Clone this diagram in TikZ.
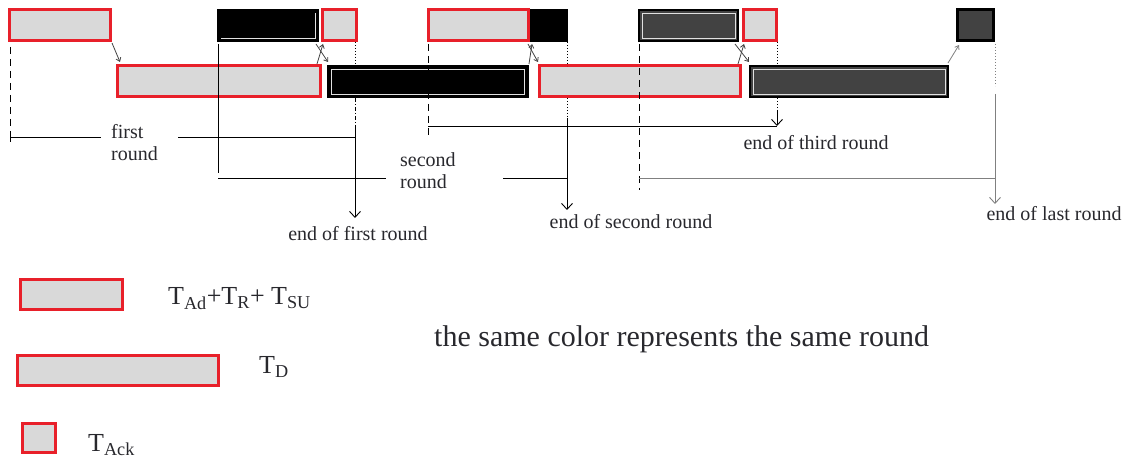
\documentclass[tikz,border=0pt]{standalone}
\usepackage{fontspec}
\setmainfont{Liberation Serif}
\usetikzlibrary{arrows.meta}
\definecolor{lg}{RGB}{217,217,217}
\definecolor{rd}{RGB}{232,32,42}
\definecolor{dg}{RGB}{66,66,66}
\definecolor{txt}{RGB}{40,40,45}
\begin{document}
\begin{tikzpicture}[x=1pt,y=-1pt,
  bx/.style={anchor=north west,inner sep=0pt,outer sep=0pt,minimum height=31pt},
  redbox/.style={bx,fill=lg,draw=rd,line width=3pt},
  blkbox/.style={bx,fill=black,draw=black,line width=1.5pt},
  dgbox/.style={bx,fill=dg,draw=black,line width=2pt},
  inset/.style={draw=lg!80!white,line width=0.8pt},
  lbl/.style={text=txt,font=\fontsize{20}{22}\selectfont,inner sep=0pt},
  small/.style={-{Straight Barb[length=3.5pt,width=5pt]},line width=0.8pt,draw=dg},
  endarr/.style={-{Straight Barb[length=6pt,width=11pt]},line width=0.9pt},
  dsh/.style={dash pattern=on 7pt off 5pt,line width=0.9pt},
  dts/.style={dotted,line width=1pt},
  leg/.style={text=txt,font=\fontsize{26}{30}\selectfont,anchor=base west,inner sep=0pt}
]
\useasboundingbox (0,0) rectangle (1136,462);
% top row
\node[redbox,minimum width=101pt] (A1) at (9,10) {};
\node[blkbox,minimum width=100pt] (B1) at (218,10) {};
\node[redbox,minimum width=34pt] (K1) at (322,10) {};
\node[redbox,minimum width=100pt] (A2) at (428,10) {};
\node[blkbox,minimum width=36pt] (K2) at (531,10) {};
\node[dgbox,minimum width=99pt] (C1) at (639,10) {};
\node[redbox,minimum width=33pt] (K3) at (743,10) {};
\node[dgbox,minimum width=36pt,line width=3pt] (DD) at (957,10) {};
% bottom row
\node[redbox,minimum width=203pt] (L1) at (117,66) {};
\node[blkbox,minimum width=200pt] (L2) at (328,66) {};
\node[redbox,minimum width=201pt] (L3) at (539,66) {};
\node[dgbox,minimum width=198pt] (L4) at (750,66) {};
% insets
\draw[inset] ([shift={(-3,3)}]B1.north east) -- ([shift={(-3,-3)}]B1.south east) -- ([shift={(3,-3)}]B1.south west);
\draw[inset] ([shift={(3,3)}]L2.north west) rectangle ([shift={(-4,-3)}]L2.south east);
\draw[inset] ([shift={(3,3)}]C1.north west) rectangle ([shift={(-3,-3)}]C1.south east);
\draw[inset] ([shift={(3,3)}]L4.north west) rectangle ([shift={(-3,-3)}]L4.south east);
% small arrows between boxes
\draw[small] ([shift={(2,2)}]A1.south east) -- ([shift={(3,-4)}]L1.north west);
\draw[small] ([shift={(-3,-2)}]L1.north east) -- ([shift={(1,3)}]K1.south west);
\draw[small] ([shift={(-2,3)}]B1.south east) -- ([shift={(0,-4)}]L2.north west);
\draw[small] ([shift={(1,-2)}]L2.north east) -- ([shift={(4,3)}]A2.south east);
\draw[small] ([shift={(0,3)}]A2.south east) -- ([shift={(10,-4)}]L2.north east);
\draw[small] ([shift={(-2,-2)}]L3.north east) -- ([shift={(1,3)}]K3.south west);
\draw[small] ([shift={(-3,3)}]C1.south east) -- ([shift={(-1,-4)}]L4.north west);
\draw[small,draw=gray] ([shift={(0,-3)}]L4.north east) -- ([shift={(2,4)}]DD.south west);
% named coordinates
\coordinate (f0) at (10,137);
\coordinate (f1) at (355,137);
\coordinate (s0) at (218,178);
\coordinate (s1) at (567,178);
\coordinate (t0) at (428,126);
\coordinate (t1) at (777,126);
\coordinate (u0) at (639,178);
\coordinate (u1) at (995,178);
% first round
\draw[dsh] (10,47) -- ([yshift=3]f0);
\draw[line width=0.9pt] ([yshift=-5]f0) -- ([yshift=4]f0);
\draw[line width=0.9pt] (f0) -- (101,137);
\draw[line width=0.9pt] (178,137) -- (f1);
\node[lbl,anchor=north west,align=left] (fr) at (111,124) {first\\round};
% second round
\draw[line width=0.9pt] (218,44) -- ([yshift=5]s0);
\draw[line width=0.9pt] (s0) -- (386,178);
\draw[line width=0.9pt] (503,178) -- (s1);
\node[lbl,anchor=north west,align=left] (sr) at (400,152) {second\\round};
% third round
\draw[dsh] (428,44) -- (428,135);
\draw[line width=0.9pt] (t0) -- (t1);
% last round
\draw[dsh] (639,44) -- (639,190);
\draw[line width=0.9pt,draw=gray] (u0) -- (u1);
% end of first round
\draw[dts] (355,42) -- (355,66);
\draw[dash pattern=on 4pt off 2pt on 1pt off 2pt,line width=0.9pt] (355,98) -- (355,127);
\coordinate (e1) at (355,218);
\draw[endarr] (355,127) -- (e1);
\node[lbl,anchor=north] (E1) at (358,226) {end of first round};
% end of second round
\draw[dts] (567,42) -- (567,66);
\draw[dts] (567,98) -- (567,118);
\coordinate (e2) at (567,210);
\draw[endarr] (567,118) -- (e2);
\node[lbl,anchor=north] (E2) at (631,214) {end of second round};
% end of third round
\draw[dts] (777,42) -- (777,66);
\draw[dts] (777,98) -- (777,112);
\draw[endarr] (777,110) -- (t1);
\node[lbl,anchor=north] (E3) at (816,135) {end of third round};
% end of last round
\draw[dts,draw=gray] (995,44) -- (995,86);
\coordinate (e4) at (995,204);
\draw[endarr,draw=gray] (995,94) -- (e4);
\node[lbl,anchor=north] (E4) at (1054,206) {end of last round};
% legend
\node[redbox,minimum width=102pt,minimum height=30pt] (G1) at (20,280) {};
\node[redbox,minimum width=201pt,minimum height=30pt] (G2) at (17,356) {};
\node[redbox,minimum width=33pt,minimum height=28pt] (G3) at (22,424) {};
\node[leg] (T1) at (168,305) {T\textsubscript{Ad}+T\textsubscript{R}+ T\textsubscript{SU}};
\node[leg] (T2) at (259,374) {T\textsubscript{D}};
\node[leg] (T3) at (88,451) {T\textsubscript{Ack}};
\node[text=txt,font=\fontsize{30}{34}\selectfont,anchor=base west,inner sep=0pt] (note) at (434,347) {the same color represents the same round};
\end{tikzpicture}
\end{document}
